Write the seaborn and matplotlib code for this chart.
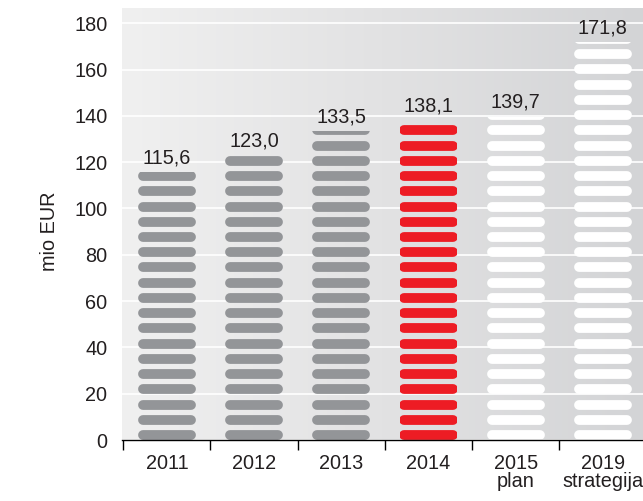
import numpy as np
import pandas as pd
import matplotlib
matplotlib.use("Agg")
import matplotlib.pyplot as plt
import seaborn as sns
from matplotlib.colors import LinearSegmentedColormap

# ---- data ----
categories = ["2011", "2012", "2013", "2014", "2015\nplan", "2019\nstrategija"]
values = [115.6, 123.0, 133.5, 138.1, 139.7, 171.8]
value_labels = ["115,6", "123,0", "133,5", "138,1", "139,7", "171,8"]
bar_colors = ["#939598", "#939598", "#939598", "#ed1c24", "#ffffff", "#ffffff"]
yticks = [0, 20, 40, 60, 80, 100, 120, 140, 160, 180]
ylabel = "mio EUR"

sns.set_theme(style="white")
plt.rcParams["font.family"] = ["Liberation Sans", "DejaVu Sans"]
txt = "#231f20"
fs = 14.3

fig = plt.figure(figsize=(6.43, 5.01), dpi=100)
ax = fig.add_axes([122 / 643, 61 / 501, 521 / 643, 432 / 501])

df = pd.DataFrame({"cat": categories, "val": values})
sns.barplot(data=df, x="cat", y="val", hue="cat", order=categories,
            hue_order=categories, palette=bar_colors, width=0.664,
            legend=False, ax=ax, zorder=1)

xlim = (-0.5 - 1.3 / 87.3, 5.46)
ylim = (0, 186.6)

# gradient background
grad = np.linspace(0, 1, 256).reshape(1, -1)
cmap = LinearSegmentedColormap.from_list("bg", ["#f0f0f0", "#e2e2e3", "#d3d4d6"])
ax.imshow(grad, extent=[xlim[0], xlim[1], ylim[0], ylim[1]], aspect="auto",
          cmap=cmap, zorder=-10, interpolation="bicubic")
ax.set_xlim(*xlim)
ax.set_ylim(*ylim)

fig.canvas.draw()
px_per_x = ax.transData.transform((1, 0))[0] - ax.transData.transform((0, 0))[0]
px_per_y = ax.transData.transform((0, 1))[1] - ax.transData.transform((0, 0))[1]

period = 15.24 / px_per_y      # pill spacing in data units
pill_h_px = 9.8
pill_h = pill_h_px / px_per_y
r_x = (pill_h_px / 2) / px_per_x
lw_pt = pill_h_px * 72 / 100

bars = list(ax.patches)
for i, (bar, val, col) in enumerate(zip(bars, values, bar_colors)):
    bar.set_alpha(0)
    bar.set_edgecolor("none")
    n = int(np.ceil(val / period))
    centers = np.arange(n) * period + pill_h / 2
    xc = bar.get_x() + bar.get_width() / 2
    w = bar.get_width()
    lc = ax.hlines(centers, xc - w / 2 + r_x, xc + w / 2 - r_x, colors=col,
                   linewidth=lw_pt, zorder=2)
    lc.set_capstyle("round")
    lc.set_clip_path(bar)
    ax.annotate(value_labels[i], (xc, val), xytext=(0, 3.5),
                textcoords="offset points", ha="center", va="bottom",
                fontsize=fs, color=txt)

# axes styling
ax.set_yticks(yticks)
ax.set_yticklabels([str(t) for t in yticks])
ax.grid(axis="y", color="white", linewidth=1.2)
ax.grid(axis="x", visible=False)
ax.set_axisbelow(True)
for s in ["top", "right", "left"]:
    ax.spines[s].set_visible(False)
ax.spines["bottom"].set_color("black")
ax.spines["bottom"].set_linewidth(1.0)
ax.spines["bottom"].set_zorder(5)

ax.set_xticks(range(len(categories)))
ax.set_xticklabels(categories)
ax.set_xticks(np.arange(-0.5, 5.0, 1.0), minor=True)
ax.tick_params(axis="x", which="major", length=0, pad=10, labelsize=fs,
               labelcolor=txt)
ax.tick_params(axis="x", which="minor", bottom=True, length=7, width=1,
               color="black", direction="out")
ax.tick_params(axis="y", length=0, pad=10.5, labelsize=fs, labelcolor=txt)
for lab in ax.get_xticklabels():
    lab.set_linespacing(0.95)

ax.set_xlabel("")
ax.set_ylabel(ylabel, fontsize=fs, color=txt)
ax.yaxis.set_label_coords(-0.12, 0.484)

fig.savefig("out.png", dpi=100)
